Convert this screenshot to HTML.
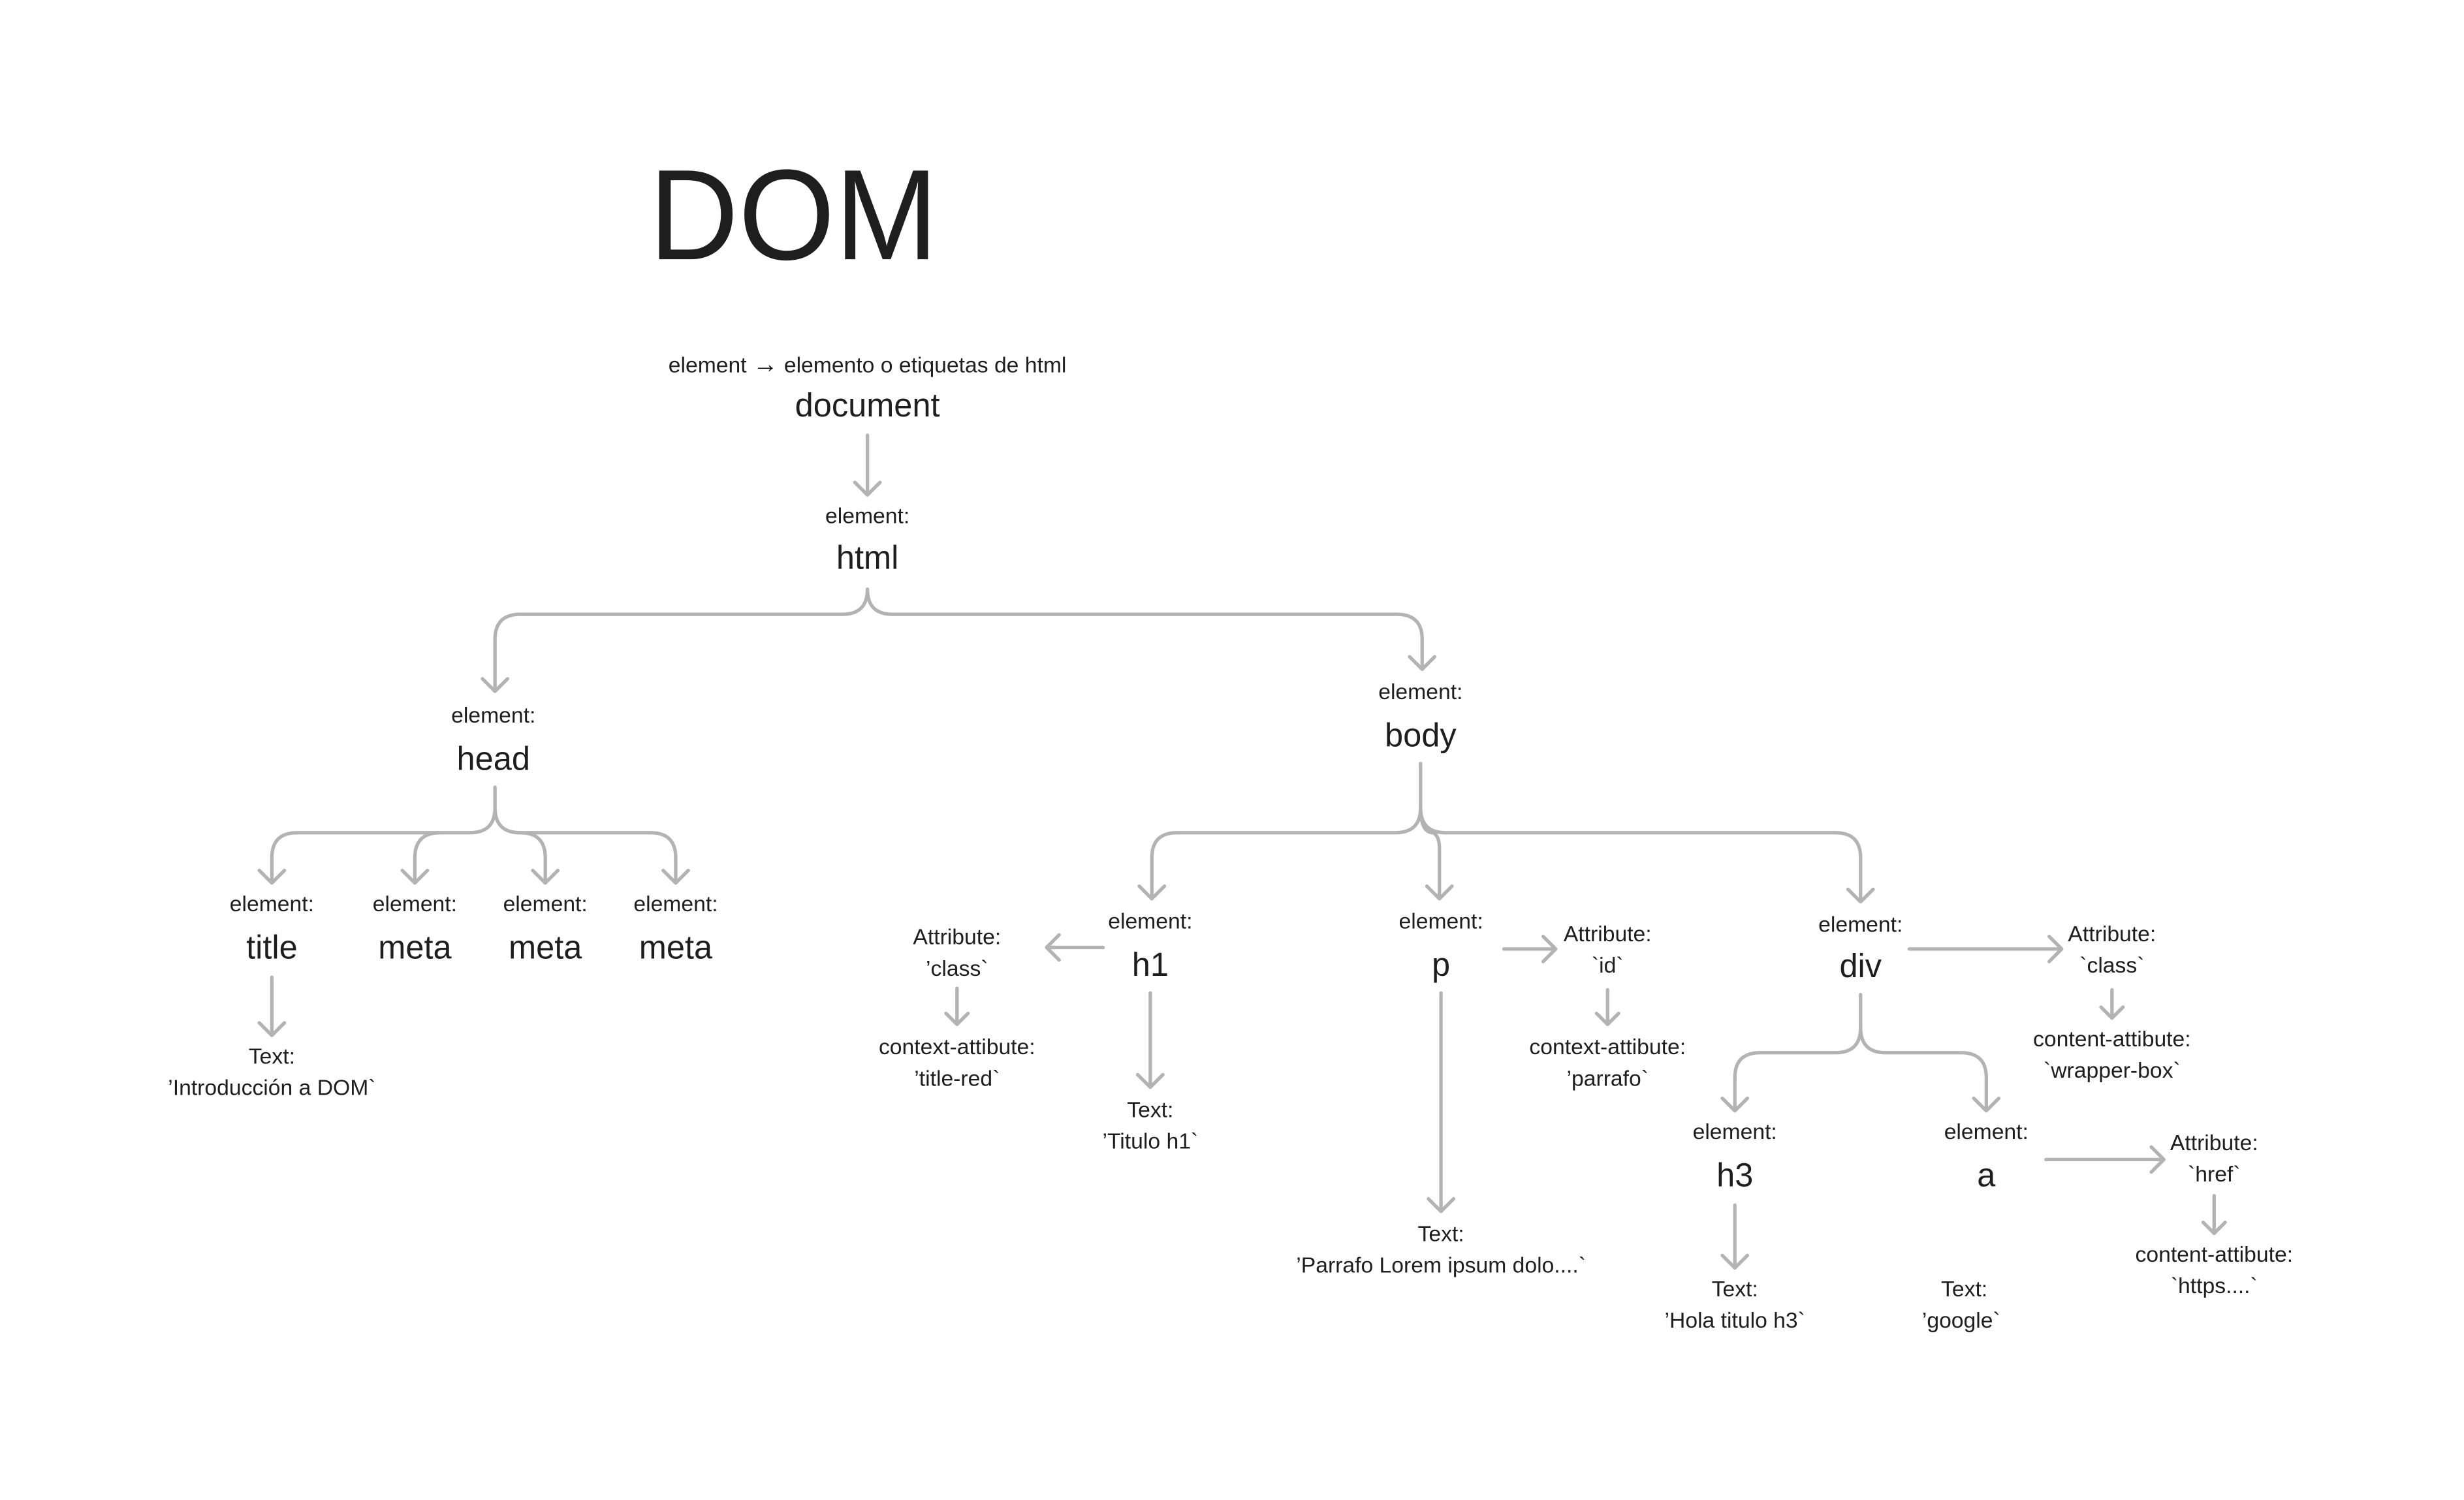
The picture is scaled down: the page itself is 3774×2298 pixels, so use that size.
<!DOCTYPE html>
<html><head><meta charset="utf-8"><style>
html,body{margin:0;padding:0;background:#fff;}
svg{display:block;}
text{font-family:"Liberation Sans","DejaVu Sans",sans-serif;fill:#1e1e1e;text-anchor:middle;}
.s{font-size:14px;}
.n{font-size:21px;}
path,line{fill:none;stroke:#b3b3b3;stroke-width:2.2;stroke-linecap:round;stroke-linejoin:round;}
</style></head><body>
<svg width="3774" height="2298" viewBox="0 0 1568 954.7" preserveAspectRatio="none" xmlns="http://www.w3.org/2000/svg">
<text x="413" y="165" style="font-size:82px;text-anchor:start" textLength="184" lengthAdjust="spacingAndGlyphs">DOM</text>

<text class="s" x="552" y="237">element <tspan style="font-size:16px">→</tspan> elemento o etiquetas de html</text>
<text class="n" x="552" y="265">document</text>
<path d="M552 277 L552 315 M544 307 L552 315 L560 307"/>
<text class="s" x="552" y="333">element:</text>
<text class="n" x="552" y="362">html</text>
<path d="M552 375 Q552 391 536 391 L331 391 Q315 391 315 407 L315 440 M307 432 L315 440 L323 432"/>
<path d="M552 375 Q552 391 568 391 L889 391 Q905 391 905 407 L905 426 M897 418 L905 426 L913 418"/>

<text class="s" x="314" y="460">element:</text>
<text class="n" x="314" y="490">head</text>
<path d="M315 501 L315 514 Q315 530 299 530 L189 530 Q173 530 173 546 L173 562 M165 554 L173 562 L181 554"/>
<path d="M280 530 Q264 530 264 546 L264 562 M256 554 L264 562 L272 554"/>
<path d="M315 514 Q315 530 331 530 L414 530 Q430 530 430 546 L430 562 M422 554 L430 562 L438 554"/>
<path d="M331 530 Q347 530 347 546 L347 562 M339 554 L347 562 L355 554"/>

<text class="s" x="173" y="580">element:</text>
<text class="s" x="264" y="580">element:</text>
<text class="s" x="347" y="580">element:</text>
<text class="s" x="430" y="580">element:</text>
<text class="n" x="173" y="610">title</text>
<text class="n" x="264" y="610">meta</text>
<text class="n" x="347" y="610">meta</text>
<text class="n" x="430" y="610">meta</text>
<path d="M173 622 L173 659 M165 651 L173 659 L181 651"/>
<text class="s" x="173" y="677">Text:</text>
<text class="s" x="173" y="697">’Introducción a DOM`</text>

<text class="s" x="904" y="445">element:</text>
<text class="n" x="904" y="475">body</text>
<path d="M904 486 L904 514 Q904 530 888 530 L749 530 Q733 530 733 546 L733 572 M725 564 L733 572 L741 564"/>
<path d="M904 514 Q904 530 912 530 Q916 532 916 540 L916 572 M908 564 L916 572 L924 564"/>
<path d="M904 514 Q904 530 920 530 L1168 530 Q1184 530 1184 546 L1184 574 M1176 566 L1184 574 L1192 566"/>

<text class="s" x="732" y="591">element:</text>
<text class="n" x="732" y="621">h1</text>
<path d="M702 603 L666 603 M674 595 L666 603 L674 611"/>
<text class="s" x="609" y="601">Attribute:</text>
<text class="s" x="609" y="621">’class`</text>
<path d="M609 629 L609 652 M602 645 L609 652 L616 645"/>
<text class="s" x="609" y="671">context-attibute:</text>
<text class="s" x="609" y="691">’title-red`</text>
<path d="M732 632 L732 692 M724 684 L732 692 L740 684"/>
<text class="s" x="732" y="711">Text:</text>
<text class="s" x="732" y="731">’Titulo h1`</text>

<text class="s" x="917" y="591">element:</text>
<text class="n" x="917" y="621">p</text>
<path d="M957 604 L990 604 M982 596 L990 604 L982 612"/>
<text class="s" x="1023" y="599">Attribute:</text>
<text class="s" x="1023" y="619">`id`</text>
<path d="M1023 630 L1023 652 M1016 645 L1023 652 L1030 645"/>
<text class="s" x="1023" y="671">context-attibute:</text>
<text class="s" x="1023" y="691">’parrafo`</text>
<path d="M917 632 L917 771 M909 763 L917 771 L925 763"/>
<text class="s" x="917" y="790">Text:</text>
<text class="s" x="917" y="810">’Parrafo Lorem ipsum dolo....`</text>

<text class="s" x="1184" y="593">element:</text>
<text class="n" x="1184" y="622">div</text>
<path d="M1215 604 L1312 604 M1304 596 L1312 604 L1304 612"/>
<text class="s" x="1344" y="599">Attribute:</text>
<text class="s" x="1344" y="619">`class`</text>
<path d="M1344 630 L1344 648 M1337 641 L1344 648 L1351 641"/>
<text class="s" x="1344" y="666">content-attibute:</text>
<text class="s" x="1344" y="686">`wrapper-box`</text>
<path d="M1184 633 L1184 654 Q1184 670 1168 670 L1120 670 Q1104 670 1104 686 L1104 707 M1096 699 L1104 707 L1112 699"/>
<path d="M1184 654 Q1184 670 1200 670 L1248 670 Q1264 670 1264 686 L1264 707 M1256 699 L1264 707 L1272 699"/>

<text class="s" x="1104" y="725">element:</text>
<text class="n" x="1104" y="755">h3</text>
<path d="M1104 767 L1104 807 M1096 799 L1104 807 L1112 799"/>
<text class="s" x="1104" y="825">Text:</text>
<text class="s" x="1104" y="845">’Hola titulo h3`</text>

<text class="s" x="1264" y="725">element:</text>
<text class="n" x="1264" y="755">a</text>
<path d="M1302 738 L1377 738 M1369 730 L1377 738 L1369 746"/>
<text class="s" x="1409" y="732">Attribute:</text>
<text class="s" x="1409" y="752">`href`</text>
<path d="M1409 761 L1409 785 M1402 778 L1409 785 L1416 778"/>
<text class="s" x="1409" y="803">content-attibute:</text>
<text class="s" x="1409" y="823">`https....`</text>
<text class="s" x="1250" y="825">Text:</text>
<text class="s" x="1248" y="845">’google`</text>
</svg>
</body></html>
